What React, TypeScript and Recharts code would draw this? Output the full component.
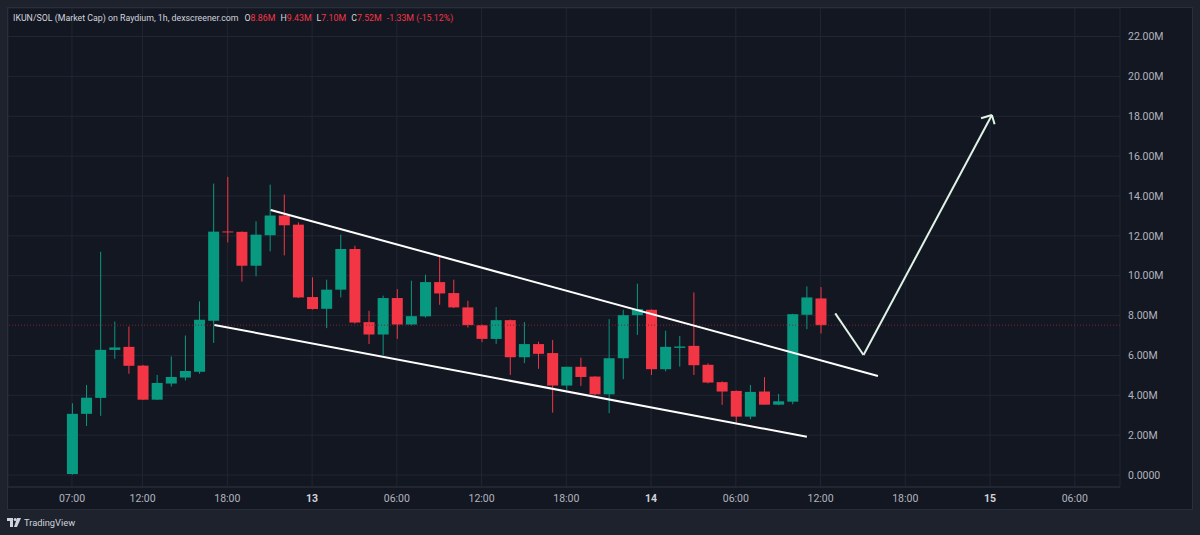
import { ComposedChart, Bar, XAxis, YAxis, CartesianGrid, ReferenceLine } from "recharts"

// hourly candles, index 0 = 12th 07:00
const opens = [0.05, 3.07, 3.87, 6.28, 6.43, 5.49, 3.78, 4.59, 4.89, 5.18, 7.74, 12.22, 12.2, 10.5, 12.03, 13.02, 12.56, 8.93, 8.34, 9.3, 11.34, 7.67, 7.05, 8.88, 7.55, 7.96, 9.68, 9.13, 8.41, 7.52, 6.83, 7.77, 5.91, 6.57, 6.12, 4.49, 5.43, 4.94, 4.05, 5.86, 8.02, 8.29, 5.31, 6.38, 6.48, 5.53, 4.66, 4.22, 2.93, 4.19, 3.53, 3.68, 8.04, 8.86]
const highs = [3.6, 4.52, 11.2, 7.7, 7.45, 5.52, 5.02, 5.95, 7.0, 8.71, 14.62, 14.96, 12.22, 12.73, 14.57, 14.07, 12.68, 9.92, 9.8, 12.06, 11.5, 8.24, 9.0, 9.33, 9.75, 10.05, 11.0, 9.8, 8.74, 7.55, 8.43, 7.8, 7.67, 6.69, 6.78, 5.43, 5.89, 4.96, 7.82, 8.29, 9.6, 8.31, 7.24, 6.98, 9.16, 5.6, 4.7, 4.24, 4.52, 4.91, 4.07, 8.09, 9.46, 9.43]
const lows = [0.02, 2.46, 2.97, 5.83, 5.08, 3.76, 3.76, 4.44, 4.74, 5.08, 6.63, 11.67, 9.7, 9.97, 11.22, 11.02, 8.88, 8.3, 7.37, 8.91, 7.6, 6.57, 6.01, 6.83, 7.5, 7.9, 8.54, 8.38, 7.4, 6.67, 6.58, 5.02, 5.61, 5.33, 3.13, 4.27, 4.47, 4.0, 3.1, 4.81, 7.03, 5.02, 5.2, 5.44, 5.02, 4.6, 3.52, 2.63, 2.8, 3.53, 3.5, 3.55, 7.32, 7.1]
const closes = [3.07, 3.88, 6.28, 6.4, 5.48, 3.78, 4.62, 4.92, 5.22, 7.79, 12.21, 12.18, 10.5, 12.06, 13.02, 12.53, 8.91, 8.33, 9.3, 11.34, 7.65, 7.05, 8.88, 7.55, 7.97, 9.68, 9.11, 8.41, 7.52, 6.83, 7.77, 5.91, 6.57, 6.08, 4.49, 5.43, 4.92, 4.05, 5.86, 8.02, 8.33, 5.31, 6.43, 6.45, 5.51, 4.64, 4.19, 2.93, 4.17, 3.53, 3.7, 8.07, 8.91, 7.52]

const xTicks = [0, 5, 11, 17, 23, 29, 35, 41, 47, 53, 59, 65, 71]
const xTickLabels = ["07:00", "12:00", "18:00", "13", "06:00", "12:00", "18:00", "14", "06:00", "12:00", "18:00", "15", "06:00"]
const yTicks = [0, 2, 4, 6, 8, 10, 12, 14, 16, 18, 20, 22]

const lastClose = 7.52

// hand drawn annotations, in [hour index, value]
const upperTrend = [[14.07, 13.3], [57.06, 4.97]]
const lowerTrend = [[10.08, 7.53], [52.03, 1.92]]
const arrowPath = [[54.04, 8.11], [56.04, 6.02], [65.13, 18.06]]
const arrowBarbs = [[64.36, 17.9], [65.32, 17.6]]

const UP = "#089981"
const DOWN = "#f23645"

const candles = opens.map((o, i) => ({
  t: i,
  open: o,
  high: highs[i],
  low: lows[i],
  close: closes[i],
  range: [lows[i], highs[i]],
}))

function Candle(props: any) {
  const { x, y, width, height, payload } = props
  const { open, close, high, low } = payload
  const k = high - low > 0 ? height / (high - low) : 0
  const color = close >= open ? UP : DOWN
  const cx = x + width / 2
  const top = y + (high - Math.max(open, close)) * k
  const bodyH = Math.max(Math.abs(open - close) * k, 1)
  const bw = 11
  return (
    <g>
      <line x1={cx} x2={cx} y1={y} y2={y + height} stroke={color} strokeWidth={1} />
      <rect x={cx - bw / 2} y={top} width={bw} height={bodyH} fill={color} />
    </g>
  )
}

function XTick(props: any) {
  const { x, y, payload } = props
  const i = xTicks.indexOf(payload.value)
  const label = xTickLabels[i] ?? ""
  const bold = label.length === 2
  return (
    <text x={x} y={y + 15} textAnchor="middle" fill={bold ? "#d1d4dc" : "#b2b5be"} fontSize={10.5} fontWeight={bold ? 700 : 400}>
      {label}
    </text>
  )
}

function YTick(props: any) {
  const { x, y, payload } = props
  const v = payload.value
  const label = v === 0 ? "0.0000" : `${v.toFixed(2)}M`
  return (
    <text x={x + 8} y={y} dy="0.35em" textAnchor="start" fill="#b2b5be" fontSize={10.5}>
      {label}
    </text>
  )
}

const seg = (a: number[], b: number[]) => [{ x: a[0], y: a[1] }, { x: b[0], y: b[1] }]

export default function App() {
  const font = "Roboto, 'Liberation Sans', Arial, sans-serif"
  return (
    <div style={{ position: "fixed", left: 0, top: 0, width: 1200, height: 535, background: "#1e222d", fontFamily: font, overflow: "hidden" }}>
      <div style={{ position: "absolute", left: 7, top: 7, width: 1186, height: 503, boxSizing: "border-box", border: "1px solid #2a2e39", background: "#131722" }}>
        <ComposedChart width={1184} height={501} data={candles} margin={{ top: 0, right: 0, bottom: 0, left: 0 }} style={{ fontFamily: font }}>
          <CartesianGrid stroke="#222632" strokeWidth={1} />
          <XAxis
            dataKey="t"
            type="number"
            domain={[-4.53, 74.2]}
            allowDataOverflow
            ticks={xTicks}
            interval={0}
            height={22}
            tickSize={0}
            tickMargin={0}
            tick={<XTick />}
            axisLine={{ stroke: "#2a2e39" }}
            tickLine={false}
          />
          <YAxis
            orientation="right"
            type="number"
            domain={[-0.6, 23.43]}
            allowDataOverflow
            ticks={yTicks}
            interval={0}
            width={72}
            tickSize={0}
            tickMargin={0}
            tick={<YTick />}
            axisLine={false}
            tickLine={false}
          />
          <ReferenceLine y={lastClose} stroke="#7a2633" strokeDasharray="1 2" strokeWidth={1} />
          <Bar dataKey="range" barSize={11} shape={<Candle />} isAnimationActive={false} />
          <ReferenceLine segment={seg(upperTrend[0], upperTrend[1])} stroke="#ffffff" strokeWidth={2} />
          <ReferenceLine segment={seg(lowerTrend[0], lowerTrend[1])} stroke="#ffffff" strokeWidth={2} />
          <ReferenceLine segment={seg(arrowPath[0], arrowPath[1])} stroke="#dff3e6" strokeWidth={2} />
          <ReferenceLine segment={seg(arrowPath[1], arrowPath[2])} stroke="#dff3e6" strokeWidth={2} />
          <ReferenceLine segment={seg(arrowPath[2], arrowBarbs[0])} stroke="#dff3e6" strokeWidth={2} />
          <ReferenceLine segment={seg(arrowPath[2], arrowBarbs[1])} stroke="#dff3e6" strokeWidth={2} />
        </ComposedChart>
        <div style={{ position: "absolute", left: 5, top: 5, fontSize: 8.8, color: "#d1d4dc", whiteSpace: "nowrap" }}>
          IKUN/SOL (Market Cap) on Raydium, 1h, dexscreener.com
          <span style={{ marginLeft: 6 }}>O</span><span style={{ color: DOWN }}>8.86M</span>
          <span style={{ marginLeft: 5 }}>H</span><span style={{ color: DOWN }}>9.43M</span>
          <span style={{ marginLeft: 5 }}>L</span><span style={{ color: DOWN }}>7.10M</span>
          <span style={{ marginLeft: 5 }}>C</span><span style={{ color: DOWN }}>7.52M</span>
          <span style={{ marginLeft: 5, color: DOWN }}>-1.33M (-15.12%)</span>
        </div>
      </div>
      <div style={{ position: "absolute", left: 7, top: 517, display: "flex", alignItems: "center", gap: 3, color: "#d1d4dc", fontSize: 9.3 }}>
        <svg width={14} height={9} viewBox="0 0 14 9">
          <path d="M0 0h6v9h-3v-6h-3z" fill="#d1d4dc" />
          <circle cx={8.2} cy={1.5} r={1.5} fill="#d1d4dc" />
          <path d="M10 0h4l-4 9h-3z" fill="#d1d4dc" />
        </svg>
        <span>TradingView</span>
      </div>
    </div>
  )
}
